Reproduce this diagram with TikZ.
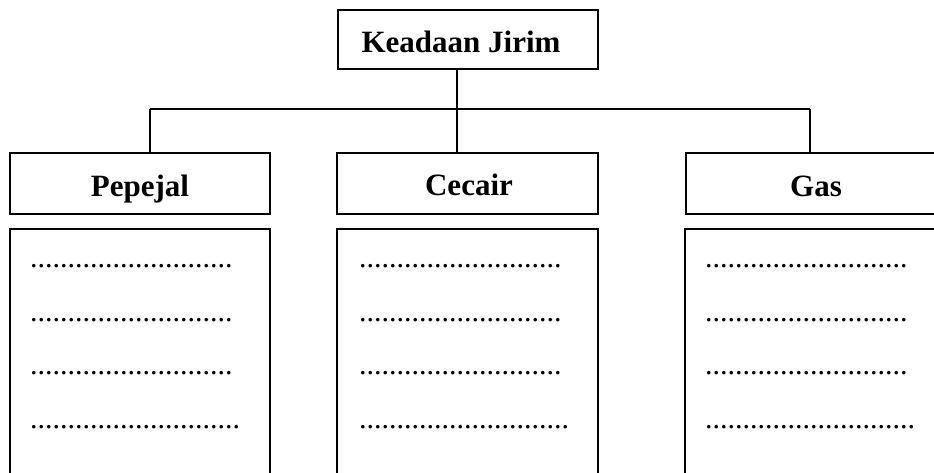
\documentclass[tikz,border=0pt]{standalone}
\usepackage{fontspec}
\setmainfont{Liberation Serif}
\begin{document}
\begin{tikzpicture}[x=1pt,y=-1pt,
  boxframe/.style={draw=black,line width=2pt,rectangle,inner sep=0pt},
  headtext/.style={inner sep=0pt,anchor=base,font=\fontsize{31}{37}\selectfont\bfseries},
  dotrow/.style={inner sep=0pt,anchor=base west,font=\fontsize{30}{36}\selectfont},
  link/.style={draw=black,line width=1.4pt}]
\useasboundingbox (0,0) rectangle (934,472);
\clip (0,0) rectangle (934,472);
\fill[white] (0,0) rectangle (934,472);

% title box
\node[boxframe,minimum width=260pt,minimum height=59pt] (top) at (468,39.5) {};
\node[headtext] (toptext) at (461,52) {Keadaan Jirim};

% heading boxes
\node[boxframe,minimum width=260pt,minimum height=61pt] (pep) at (140,183.5) {};
\node[boxframe,minimum width=261pt,minimum height=61pt] (cec) at (467.5,183.5) {};
\node[boxframe,minimum width=260pt,minimum height=61pt] (gas) at (816,183.5) {};
\node[headtext] (peptext) at (140,196) {Pepejal};
\node[headtext] (cectext) at (469,195) {Cecair};
\node[headtext] (gastext) at (816,196) {Gas};

% answer boxes, running past the lower edge
\node[boxframe,minimum width=260pt,minimum height=280pt] (pepbox) at (140,369) {};
\node[boxframe,minimum width=261pt,minimum height=280pt] (cecbox) at (467.5,369) {};
\node[boxframe,minimum width=261pt,minimum height=280pt] (gasbox) at (815.5,369) {};

% connectors
\coordinate (jl) at (150,109);
\coordinate (jm) at (457,109);
\coordinate (jr) at (810,109);
\draw[link] (jl) -- (jr);
\draw[link] (jm |- top.south) -- (jm |- cec.north);
\draw[link] (jl) -- (jl |- pep.north);
\draw[link] (jr) -- (jr |- gas.north);

% dotted answer lines
\foreach \n/\x in {p/30,c/359,g/705}{
  \node[dotrow] (\n1) at (\x,267.5) {...........................};
  \node[dotrow] (\n2) at (\x,321.2) {...........................};
  \node[dotrow] (\n3) at (\x,374.9) {...........................};
  \node[dotrow] (\n4) at (\x,428.5) {............................};
}
\end{tikzpicture}
\end{document}
